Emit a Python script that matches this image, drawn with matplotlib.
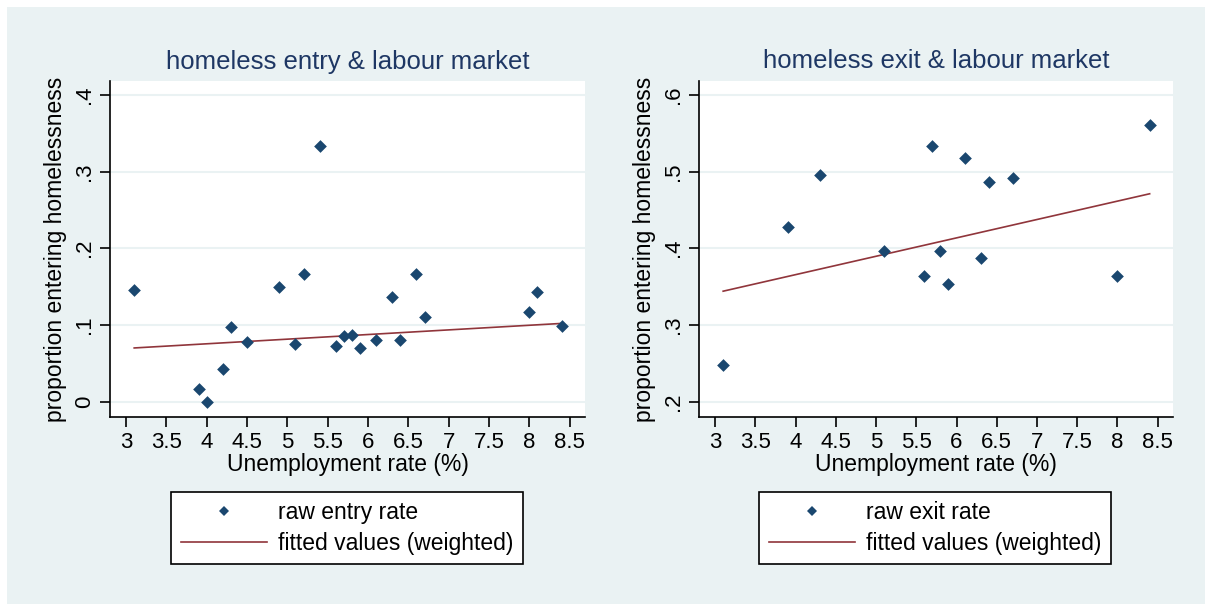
import matplotlib
matplotlib.use("Agg")
import matplotlib.pyplot as plt
from matplotlib.patches import Rectangle
from matplotlib.lines import Line2D

# entry panel
entry_unemp = [3.1, 3.9, 4.0, 4.2, 4.3, 4.5, 4.9, 5.1, 5.2, 5.4, 5.6, 5.7, 5.8,
               5.9, 6.1, 6.3, 6.4, 6.6, 6.7, 8.0, 8.1, 8.4]
entry_rate = [0.145, 0.017, 0.000, 0.043, 0.097, 0.078, 0.150, 0.075, 0.167, 0.333,
              0.073, 0.085, 0.087, 0.070, 0.080, 0.136, 0.080, 0.167, 0.110, 0.117,
              0.143, 0.098]
entry_fit_x = [3.1, 8.4]
entry_fit_y = [0.070, 0.102]
entry_ticks = [0, 0.1, 0.2, 0.3, 0.4]
entry_ticklabels = ["0", ".1", ".2", ".3", ".4"]

# exit panel
exit_unemp = [3.1, 3.9, 4.3, 5.1, 5.6, 5.7, 5.8, 5.9, 6.1, 6.3, 6.4, 6.7, 8.0, 8.4]
exit_rate = [0.248, 0.428, 0.495, 0.397, 0.364, 0.533, 0.397, 0.353, 0.517, 0.387,
             0.486, 0.491, 0.364, 0.561]
exit_fit_x = [3.1, 8.4]
exit_fit_y = [0.344, 0.471]
exit_ticks = [0.2, 0.3, 0.4, 0.5, 0.6]
exit_ticklabels = [".2", ".3", ".4", ".5", ".6"]

x_ticks = [3, 3.5, 4, 4.5, 5, 5.5, 6, 6.5, 7, 7.5, 8, 8.5]
x_ticklabels = ["3", "3.5", "4", "4.5", "5", "5.5", "6", "6.5", "7", "7.5", "8", "8.5"]

BG = "#eaf2f3"
NAVY = "#1a476f"
MAROON = "#90353b"
TITLE_C = "#1e3764"

plt.rcParams["font.family"] = ["Liberation Sans", "DejaVu Sans"]

fig = plt.figure(figsize=(12.05, 6.04), dpi=100)
fig.patch.set_facecolor("white")
fig.patches.append(Rectangle((7 / 1205, 0), 1 - 7 / 1205, 1 - 7 / 604,
                             transform=fig.transFigure, facecolor=BG,
                             edgecolor="none", zorder=-10))

panels = [
    dict(left=110, right=585, x=entry_unemp, y=entry_rate, fx=entry_fit_x, fy=entry_fit_y,
         ticks=entry_ticks, labels=entry_ticklabels, ylim=(-0.02, 0.418),
         title="homeless entry & labour market", leg="raw entry rate", legx=347),
    dict(left=699, right=1173, x=exit_unemp, y=exit_rate, fx=exit_fit_x, fy=exit_fit_y,
         ticks=exit_ticks, labels=exit_ticklabels, ylim=(0.18, 0.618),
         title="homeless exit & labour market", leg="raw exit rate", legx=935),
]

for p in panels:
    ax = fig.add_axes([p["left"] / 1205, 1 - 417 / 604,
                       (p["right"] - p["left"]) / 1205, (417 - 81) / 604])
    ax.set_facecolor("white")
    ax.set_xlim(2.8, 8.69)
    ax.set_ylim(*p["ylim"])
    ax.set_yticks(p["ticks"])
    ax.set_yticklabels(p["labels"], rotation=90, va="center")
    ax.set_xticks(x_ticks)
    ax.set_xticklabels(x_ticklabels)
    ax.grid(axis="y", color=BG, lw=1.5)
    ax.set_axisbelow(True)
    for s in ["top", "right"]:
        ax.spines[s].set_visible(False)
    for s in ["left", "bottom"]:
        ax.spines[s].set_linewidth(1.2)
    ax.tick_params(length=7, width=1.2, labelsize=16, pad=4)

    ax.scatter(p["x"], p["y"], marker="D", s=42, color=NAVY, zorder=3, linewidths=0)
    ax.plot(p["fx"], p["fy"], color=MAROON, lw=1.2, zorder=2)

    ax.set_title(p["title"], fontsize=18.5, color=TITLE_C, pad=9)
    ax.set_xlabel("Unemployment rate (%)", fontsize=16.5, labelpad=0)
    ax.set_ylabel("proportion entering homelessness", fontsize=16.5, labelpad=5)

    handles = [
        Line2D([], [], marker="D", ls="none", color=NAVY, markersize=5, markeredgewidth=0),
        Line2D([], [], color=MAROON, lw=1.2),
    ]
    leg = fig.legend(handles, [p["leg"], "fitted values (weighted)"],
                     loc="center", bbox_to_anchor=(p["legx"] / 1205, 1 - 528 / 604),
                     fontsize=16.5, frameon=True, fancybox=False, handlelength=3.75,
                     handletextpad=0.5, labelspacing=0.35, borderpad=0.4,
                     borderaxespad=0)
    leg.get_frame().set_edgecolor("black")
    leg.get_frame().set_linewidth(1.2)
    leg.get_frame().set_facecolor("white")
    leg.get_frame().set_alpha(1)

fig.savefig("out.png", dpi=100, facecolor=fig.get_facecolor())
